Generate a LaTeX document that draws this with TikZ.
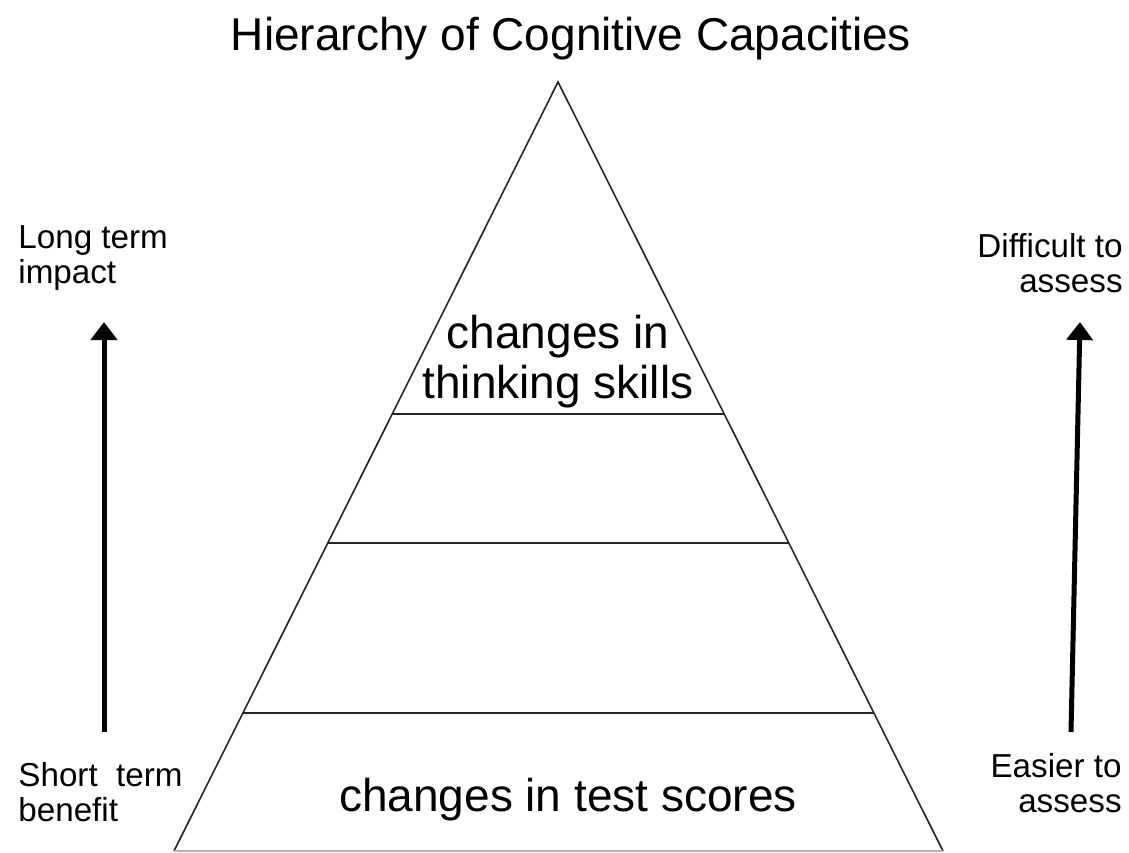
\documentclass[tikz,border=0pt]{standalone}
\usepackage{fontspec}
\setmainfont{Liberation Sans}
\usetikzlibrary{arrows.meta, calc}

\begin{document}
\begin{tikzpicture}[
    x=0.5pt, y=-0.5pt,
    title/.style={font=\fontsize{23}{25}\selectfont, inner sep=0pt},
    tier/.style={font=\fontsize{23}{25}\selectfont, align=center, inner sep=0pt},
    sidelabel/.style={font=\fontsize{16.6}{17.75}\selectfont, inner sep=0pt},
    edge/.style={line width=0.8pt, black!85},
    arrow/.style={-{Triangle[width=13pt, length=9pt]}, line width=2.5pt}
]
\useasboundingbox (0,0) rectangle (1129,852);

% Title
\node[title] (title) at (571, 39) {Hierarchy of Cognitive Capacities};

% Pyramid
\coordinate (apex) at (558, 82);
\coordinate (baseL) at (174, 851);
\coordinate (baseR) at (943, 851);
\draw[edge] (baseL) -- (apex) -- (baseR);
\draw[line width=0.8pt, black!30] (baseL) -- (baseR);

% Tier lines
\foreach \f in {0.4317, 0.5995, 0.8205}
    \draw[edge] ($(apex)!\f!(baseL)$) -- ($(apex)!\f!(baseR)$);

% Tier texts
\node[tier] (thinking) at (558, 362) {changes in\\thinking skills};
\node[tier] (scores) at (568, 800) {changes in test scores};

% Side labels
\node[sidelabel, anchor=west, align=left] (longterm) at (18, 258) {Long term\\impact};
\node[sidelabel, anchor=west, align=left] (shortterm) at (18, 792) {Short\ \ term\\benefit};
\node[sidelabel, anchor=east, align=right] (difficult) at (1123, 263) {Difficult to\\assess};
\node[sidelabel, anchor=east, align=right] (easier) at (1122, 783) {Easier to\\assess};

% Arrows
\coordinate (lowL) at (104, 732);
\coordinate (highL) at (104, 322);
\coordinate (lowR) at (1071, 732);
\coordinate (highR) at (1080, 322);
\draw[arrow] (lowL) -- (highL);
\draw[arrow] (lowR) -- (highR);

\end{tikzpicture}
\end{document}
